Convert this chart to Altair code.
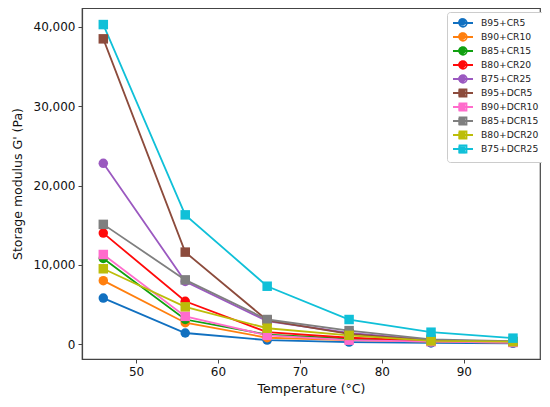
import altair as alt
import pandas as pd

temps = [46, 56, 66, 76, 86, 96]
series = ["B95+CR5", "B90+CR10", "B85+CR15", "B80+CR20", "B75+CR25",
          "B95+DCR5", "B90+DCR10", "B85+DCR15", "B80+DCR20", "B75+DCR25"]
values = {
    "B95+CR5":   [5800, 1400, 500, 250, 150, 100],
    "B90+CR10":  [8000, 2700, 800, 500, 300, 200],
    "B85+CR15":  [10800, 3100, 1200, 700, 350, 250],
    "B80+CR20":  [14000, 5400, 1500, 800, 400, 250],
    "B75+CR25":  [22800, 7900, 2900, 1400, 500, 300],
    "B95+DCR5":  [38500, 11600, 3000, 1300, 450, 300],
    "B90+DCR10": [11300, 3500, 1100, 500, 300, 200],
    "B85+DCR15": [15100, 8100, 3100, 1700, 600, 350],
    "B80+DCR20": [9500, 4700, 2000, 1100, 400, 300],
    "B75+DCR25": [40300, 16300, 7300, 3100, 1500, 750],
}
colors = ["#1170c0", "#ff7f0e", "#10a010", "#ff0a0a", "#9b59c0",
          "#8c4b3c", "#ff6ccc", "#7f7f7f", "#bcbd0a", "#10c0d8"]
shapes = ["circle"] * 5 + ["square"] * 5

circ_path = "M-1,0L3,0M1.75,0A0.75,0.75,0,1,1,0.25,0A0.75,0.75,0,1,1,1.75,0Z"
sq_path = "M-1,0L3,0M0.3,-0.7L1.7,-0.7L1.7,0.7L0.3,0.7Z"
legend_shapes = [circ_path] * 5 + [sq_path] * 5

rows = []
for s in series:
    for t, v in zip(temps, values[s]):
        rows.append({"series": s, "k1": s, "k2": s, "T": t, "G": v})
df = pd.DataFrame(rows)

xenc = alt.X("T:Q", scale=alt.Scale(domain=[43.4, 99.3], nice=False, zero=False),
             axis=alt.Axis(values=[50, 60, 70, 80, 90], title="Temperature (°C)",
                           titlePadding=5))
yenc = alt.Y("G:Q", scale=alt.Scale(domain=[-1880, 42390], nice=False, zero=False),
             axis=alt.Axis(values=[0, 10000, 20000, 30000, 40000],
                           labelExpr="format(datum.value, ',')",
                           title="Storage modulus G' (Pa)", titlePadding=9))

base = alt.Chart(df)

lines = base.mark_line(strokeWidth=1.8).encode(
    x=xenc, y=yenc,
    color=alt.Color("series:N", scale=alt.Scale(domain=series, range=colors), legend=None),
    detail="series:N",
)

points = base.mark_point(filled=True, opacity=1, size=90).encode(
    x=xenc, y=yenc,
    color=alt.Color("series:N", scale=alt.Scale(domain=series, range=colors), legend=None),
    shape=alt.Shape("series:N", scale=alt.Scale(domain=series, range=shapes), legend=None),
)

common = dict(title=None, orient="none", legendX=365, legendY=4,
              labelFont="DejaVu Sans", labelFontSize=9.2,
              symbolSize=100, symbolOpacity=1,
              labelOffset=17, padding=5, cornerRadius=3)

legA = alt.Legend(symbolStrokeWidth=1.8, labelColor="#222", rowPadding=-2,
                  strokeColor="#cccccc", fillColor="white", **common)
legB = alt.Legend(symbolStrokeWidth=0, labelExpr="''", rowPadding=3.2, **common)

layerA = base.mark_point(filled=False, opacity=0, strokeWidth=1.8).encode(
    x=xenc, y=yenc,
    color=alt.Color("k1:N", scale=alt.Scale(domain=series, range=colors), legend=legA),
    shape=alt.Shape("k1:N", scale=alt.Scale(domain=series, range=legend_shapes), legend=legA),
)
layerB = base.mark_point(filled=True, opacity=0).encode(
    x=xenc, y=yenc,
    color=alt.Color("k2:N", scale=alt.Scale(domain=series, range=colors), legend=legB),
    shape=alt.Shape("k2:N", scale=alt.Scale(domain=series, range=legend_shapes), legend=legB),
)

chart = alt.layer(lines, points, layerA, layerB).resolve_scale(
    color="independent", shape="independent"
).resolve_legend(
    color="independent", shape="independent"
).properties(
    width=458, height=351,
    autosize=alt.AutoSizeParams(type="none"),
    padding={"left": 74, "top": 0, "right": 2, "bottom": 40},
).configure_view(
    stroke="#444444", strokeWidth=1.2
).configure_axis(
    grid=False, labelFont="DejaVu Sans", titleFont="DejaVu Sans",
    labelFontSize=12, titleFontSize=12.5, titleFontWeight="normal",
    labelColor="#111", titleColor="#111",
    domainColor="#444444", tickColor="#444444", tickSize=4, labelPadding=3,
    domainWidth=1.2,
)

chart.save("out.html", embed_options={"renderer": "svg", "actions": False})
